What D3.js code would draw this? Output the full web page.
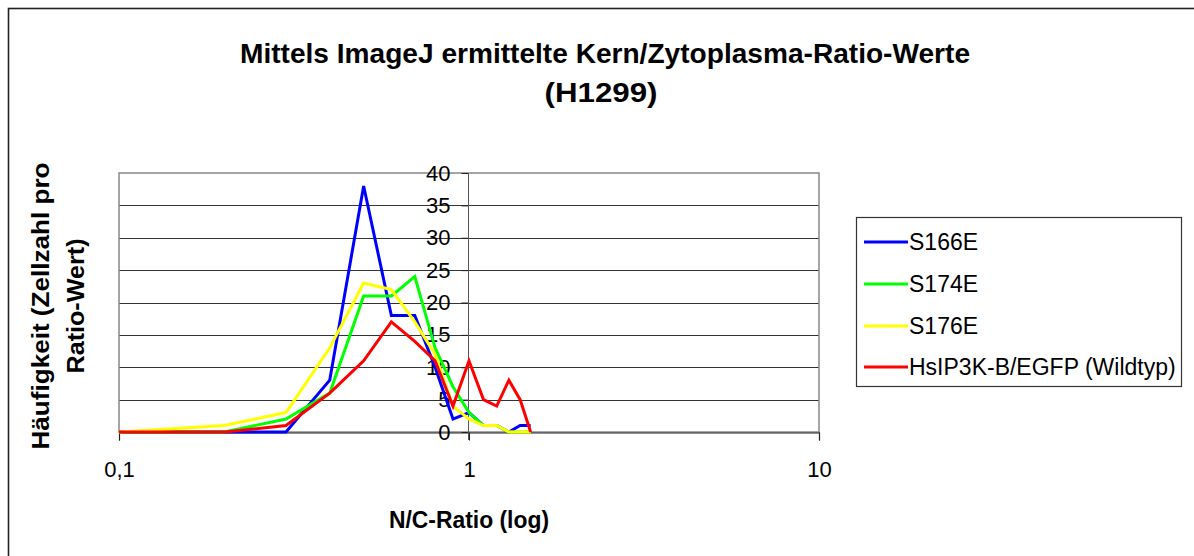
<!DOCTYPE html>
<html>
<head>
<meta charset="utf-8">
<script src="https://cdn.jsdelivr.net/npm/d3@7"></script>
<style>
  html, body { margin: 0; padding: 0; background: #fff; }
  svg { display: block; font-family: "Liberation Sans", Arial, sans-serif; }
</style>
</head>
<body>
<svg id="chart" width="1194" height="556"></svg>
<script>
// ---- data ----
const ratios = [0.1, 0.2, 0.3, 0.4, 0.5, 0.6, 0.7, 0.8, 0.9, 1.0, 1.1, 1.2, 1.3, 1.4, 1.5];
const seriesNames = ["S166E", "S174E", "S176E", "HsIP3K-B/EGFP (Wildtyp)"];
const s166e = [0, 0, 0, 8, 38, 18, 18, 10, 2, 3, 1, 1, 0, 1, 1];
const s174e = [0, 0, 2, 6, 21, 21, 24, 13, 7, 3, 1, 1, 0, 0, 0];
const s176e = [0, 1, 3, 13, 23, 22, 17, 12, 4, 2, 1, 1, 0, 0, 0];
const wildtyp = [0, 0, 1, 6, 11, 17, 14, 11, 4, 11, 5, 4, 8, 5, 0];
const seriesColors = ["#0000ff", "#00ff00", "#ffff00", "#ff0000"];
const yTicks = [0, 5, 10, 15, 20, 25, 30, 35, 40];
const xTicks = [0.1, 1, 10];
const xTickLabels = ["0,1", "1", "10"];
const titleLines = ["Mittels ImageJ ermittelte Kern/Zytoplasma-Ratio-Werte", "(H1299)"];
const yTitleLines = ["Häufigkeit (Zellzahl pro", "Ratio-Wert)"];
const xTitle = "N/C-Ratio (log)";

const allSeries = [s166e, s174e, s176e, wildtyp];

// ---- layout ----
const svg = d3.select("#chart");
const L = 119, R = 819, T = 173, B = 432;

const x = d3.scaleLog().domain([0.1, 10]).range([L, R]);
const y = d3.scaleLinear().domain([0, 40]).range([B, T]);

// outer border
svg.append("rect")
  .attr("x", 8.5).attr("y", 8.5)
  .attr("width", 1200).attr("height", 600)
  .attr("fill", "none").attr("stroke", "#222").attr("stroke-width", 1.6);

// title
svg.append("text")
  .attr("x", 605).attr("y", 63)
  .attr("text-anchor", "middle")
  .attr("font-weight", "bold").attr("font-size", 27)
  .attr("textLength", 730).attr("lengthAdjust", "spacingAndGlyphs")
  .text(titleLines[0]);
svg.append("text")
  .attr("x", 601).attr("y", 102)
  .attr("text-anchor", "middle")
  .attr("font-weight", "bold").attr("font-size", 27)
  .attr("textLength", 113).attr("lengthAdjust", "spacingAndGlyphs")
  .text(titleLines[1]);

// gridlines
svg.append("g").selectAll("line")
  .data(yTicks.filter(t => t > 0 && t < 40))
  .join("line")
  .attr("x1", L).attr("x2", R)
  .attr("y1", d => Math.round(y(d)) + 0.5).attr("y2", d => Math.round(y(d)) + 0.5)
  .attr("stroke", "#333").attr("stroke-width", 1);

// plot frame
svg.append("rect")
  .attr("x", L).attr("y", T)
  .attr("width", R - L).attr("height", B - T)
  .attr("fill", "none").attr("stroke", "#888").attr("stroke-width", 1.5);

// x axis
const xAxis = d3.axisBottom(x)
  .tickValues(xTicks)
  .tickFormat((d, i) => xTickLabels[i])
  .tickSize(8).tickPadding(21);
const gx = svg.append("g").attr("transform", `translate(0,${B + 0.5})`).call(xAxis);
gx.select(".domain").attr("stroke", "#222").attr("stroke-width", 1.2);
gx.selectAll(".tick line").attr("stroke", "#222");
gx.selectAll("text").attr("font-size", 22).attr("fill", "#000")
  .attr("font-family", "Liberation Sans, Arial, sans-serif");

// y axis at x = 1
const yAxis = d3.axisLeft(y)
  .tickValues(yTicks)
  .tickSize(7).tickPadding(11);
const gy = svg.append("g").attr("transform", `translate(${x(1) - 0.5},0)`).call(yAxis);
gy.select(".domain").remove();
gy.append("line").attr("x1", 0).attr("x2", 0).attr("y1", T).attr("y2", B + 8)
  .attr("stroke", "#555").attr("stroke-width", 1);
gy.selectAll(".tick line").attr("stroke", "#222");
gy.selectAll("text").attr("font-size", 22).attr("fill", "#000")
  .attr("font-family", "Liberation Sans, Arial, sans-serif");

// series lines
const line = d3.line()
  .x((d, i) => x(ratios[i]))
  .y(d => y(d));
svg.append("g").selectAll("path")
  .data(allSeries)
  .join("path")
  .attr("d", d => line(d))
  .attr("fill", "none")
  .attr("stroke", (d, i) => seriesColors[i])
  .attr("stroke-width", 3)
  .attr("stroke-linejoin", "miter");

// y title
const yt = svg.append("g");
yTitleLines.forEach((t, i) => {
  yt.append("text")
    .attr("transform", `translate(${[49, 84][i]},306) rotate(-90)`)
    .attr("text-anchor", "middle")
    .attr("font-weight", "bold").attr("font-size", 23)
    .attr("textLength", [287, 135][i]).attr("lengthAdjust", "spacingAndGlyphs")
    .text(t);
});

// x title
svg.append("text")
  .attr("x", 469).attr("y", 528)
  .attr("text-anchor", "middle")
  .attr("font-weight", "bold").attr("font-size", 23)
  .attr("textLength", 160).attr("lengthAdjust", "spacingAndGlyphs")
  .text(xTitle);

// legend
const lg = svg.append("g");
lg.append("rect")
  .attr("x", 856.5).attr("y", 217.5).attr("width", 325).attr("height", 169)
  .attr("fill", "#fff").attr("stroke", "#333").attr("stroke-width", 1.2);
const legendY = [242, 284, 326, 367];
seriesNames.forEach((n, i) => {
  lg.append("line")
    .attr("x1", 864).attr("x2", 908)
    .attr("y1", legendY[i]).attr("y2", legendY[i])
    .attr("stroke", seriesColors[i]).attr("stroke-width", 3);
  lg.append("text")
    .attr("x", 909).attr("y", legendY[i] + 8)
    .attr("font-size", 23).attr("fill", "#000")
    .text(n);
});
</script>
</body>
</html>
